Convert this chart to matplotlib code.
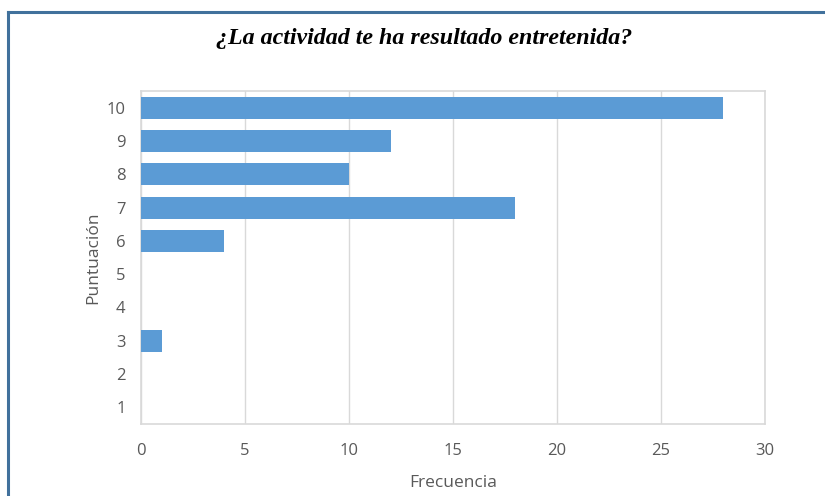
import matplotlib.pyplot as plt
from matplotlib.lines import Line2D

puntuacion = [1, 2, 3, 4, 5, 6, 7, 8, 9, 10]
frecuencia = [0, 0, 1, 0, 0, 4, 18, 10, 12, 28]
x_ticks = [0, 5, 10, 15, 20, 25, 30]

gris = "#595959"
azul = "#5B9BD5"

fig = plt.figure(figsize=(8.25, 4.96), dpi=100)
ax = fig.add_axes([0.1709, 0.1452, 0.7564, 0.6713])

ax.barh(puntuacion, frecuencia, height=0.66, color=azul, zorder=3)
ax.set_xlim(0, 30)
ax.set_ylim(0.5, 10.5)
ax.set_xticks(x_ticks)
ax.set_yticks(puntuacion)
ax.tick_params(length=0, labelsize=12, labelcolor=gris)
ax.tick_params(axis="x", pad=14)
ax.tick_params(axis="y", pad=11)
for lbl in ax.get_xticklabels() + ax.get_yticklabels():
    lbl.set_family("Open Sans")
ax.grid(axis="x", color="#D9D9D9", linewidth=1, zorder=0)
for s in ax.spines.values():
    s.set_color("#D9D9D9")
    s.set_linewidth(1.2)

ax.set_xlabel("Frecuencia", fontsize=12.5, color=gris, family="Open Sans", labelpad=11)
ax.set_ylabel("Puntuación", fontsize=12.5, color=gris, family="Open Sans", labelpad=4)

fig.text(0.514, 0.923, "¿La actividad te ha resultado entretenida?", ha="center", va="center",
         fontsize=17.3, fontweight="bold", fontstyle="italic", family="Liberation Serif")

# marco azul del recuadro
borde = "#41719C"
fig.add_artist(Line2D([0.0103, 1.0], [0.9758, 0.9758], transform=fig.transFigure, color=borde, linewidth=2.2))
fig.add_artist(Line2D([0.0103, 0.0103], [0.0, 0.9758], transform=fig.transFigure, color=borde, linewidth=2.2))

fig.savefig("out.png", dpi=100)
